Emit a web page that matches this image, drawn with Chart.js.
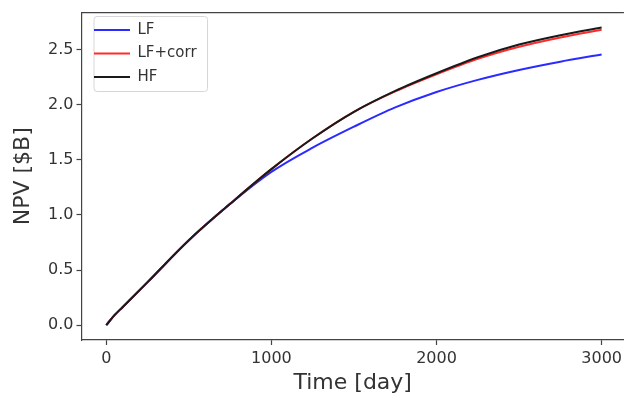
<!DOCTYPE html>
<html>
<head>
<meta charset="utf-8">
<script src="https://cdn.jsdelivr.net/npm/chart.js@4"></script>
<style>
  html, body { margin: 0; padding: 0; background: #fff; overflow: hidden; }
</style>
</head>
<body>
<canvas id="c" width="626" height="400"></canvas>
<script>
// values
const days = [0, 50, 100, 250, 500, 750, 1000, 1250, 1500, 1750, 2000, 2250, 2500, 2750, 3000]
const npvLF = [0, 0.09, 0.165, 0.39, 0.77, 1.10, 1.39, 1.61, 1.80, 1.975, 2.115, 2.225, 2.315, 2.39, 2.455]
const npvCorr = [0, 0.09, 0.165, 0.39, 0.77, 1.10, 1.415, 1.695, 1.935, 2.12, 2.275, 2.415, 2.525, 2.61, 2.68]
const npvHF = [0, 0.09, 0.165, 0.39, 0.77, 1.10, 1.415, 1.695, 1.935, 2.125, 2.285, 2.43, 2.545, 2.63, 2.70]
const xTicks = [0, 1000, 2000, 3000]
const yTicks = [0, 0.5, 1.0, 1.5, 2.0, 2.5]

const font = 'DejaVu Sans'
const spine = '#444'
const toPoints = (vals) => vals.map((v, i) => ({ x: days[i], y: v }))

// nudge legend right a bit, frame it, and draw the top spine
const framePlugin = {
  id: 'frame',
  afterLayout(chart) {
    const lg = chart.legend
    if (!lg) return
    const dx = 4
    lg.left += dx
    lg.right += dx
    lg.legendHitBoxes.forEach((h) => { h.left += dx })
  },
  beforeDraw(chart) {
    const ctx = chart.ctx
    const boxes = chart.legend && chart.legend.legendHitBoxes
    if (boxes && boxes.length) {
      let l = Infinity, t = Infinity, r = -Infinity, b = -Infinity
      boxes.forEach((h) => {
        l = Math.min(l, h.left); t = Math.min(t, h.top)
        r = Math.max(r, h.left + h.width); b = Math.max(b, h.top + h.height)
      })
      l -= 4; t -= 6; r += 7; b += 7
      ctx.save()
      ctx.fillStyle = 'rgba(255,255,255,0.8)'
      ctx.strokeStyle = '#d6d6d6'
      ctx.lineWidth = 1
      ctx.beginPath()
      ctx.roundRect(l, t, r - l, b - t, 3)
      ctx.fill()
      ctx.stroke()
      ctx.restore()
    }
  },
  afterDraw(chart) {
    const { ctx, chartArea } = chart
    ctx.save()
    ctx.strokeStyle = spine
    ctx.lineWidth = 1.2
    ctx.beginPath()
    ctx.moveTo(chartArea.left, chartArea.top)
    ctx.lineTo(chartArea.right, chartArea.top)
    ctx.stroke()
    ctx.restore()
  }
}

new Chart(document.getElementById('c'), {
  type: 'line',
  data: {
    datasets: [
      { label: 'LF', data: toPoints(npvLF), borderColor: '#2b2bff', borderWidth: 2, order: 3 },
      { label: 'LF+corr', data: toPoints(npvCorr), borderColor: '#ff2b2b', borderWidth: 2, order: 2 },
      { label: 'HF', data: toPoints(npvHF), borderColor: '#1a1a1a', borderWidth: 2, order: 1 }
    ]
  },
  options: {
    responsive: false,
    animation: false,
    devicePixelRatio: 1,
    layout: { padding: { top: 7.5, left: 0, right: 0, bottom: 0 } },
    elements: {
      point: { radius: 0 },
      line: { cubicInterpolationMode: 'monotone', fill: false }
    },
    plugins: {
      tooltip: { enabled: false },
      legend: {
        position: 'chartArea',
        align: 'start',
        title: { display: true, text: ' ', padding: 4, font: { size: 5 } },
        labels: {
          usePointStyle: true,
          pointStyle: 'line',
          pointStyleWidth: 36,
          padding: 8.5,
          color: '#333',
          font: { family: font, size: 15 },
          sort: (a, b) => a.datasetIndex - b.datasetIndex
        }
      }
    },
    scales: {
      x: {
        type: 'linear',
        min: -150,
        max: 3135,
        afterBuildTicks: (s) => { s.ticks = xTicks.map((v) => ({ value: v })) },
        afterFit: (s) => { s.height = 60 },
        ticks: {
          color: '#333',
          padding: 4,
          maxRotation: 0,
          font: { family: font, size: 16 },
          callback: (v) => String(v)
        },
        grid: { drawOnChartArea: false, tickLength: 5, tickColor: spine, tickWidth: 1.2 },
        border: { color: spine, width: 1.2 },
        title: {
          display: true,
          text: 'Time [day]',
          color: '#333',
          font: { family: font, size: 22 },
          padding: { top: 4, bottom: 4 }
        }
      },
      y: {
        min: -0.135,
        max: 2.835,
        afterBuildTicks: (s) => { s.ticks = yTicks.map((v) => ({ value: v })) },
        afterFit: (s) => { s.width = 81.5 },
        ticks: {
          color: '#333',
          padding: 3,
          font: { family: font, size: 16 },
          callback: (v) => v.toFixed(1)
        },
        grid: { drawOnChartArea: false, tickLength: 5, tickColor: spine, tickWidth: 1.2 },
        border: { color: spine, width: 1.2 },
        title: {
          display: true,
          text: 'NPV [$B]',
          color: '#333',
          font: { family: font, size: 22 },
          padding: { top: 10, bottom: 0 }
        }
      }
    }
  },
  plugins: [framePlugin]
})
</script>
</body>
</html>
